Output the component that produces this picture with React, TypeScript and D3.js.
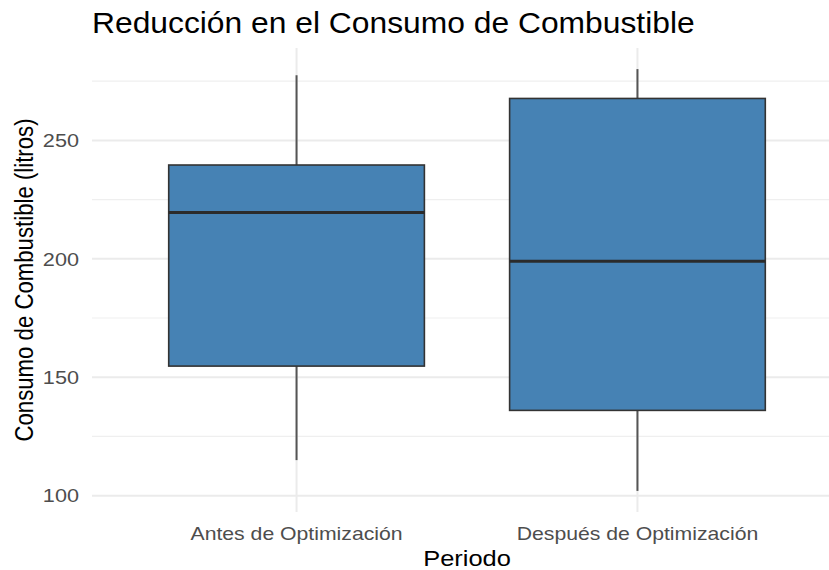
import React from "react";
import * as d3 from "d3";

const categories = ["Antes de Optimización", "Después de Optimización"];
const lowerWhisker = [115, 102];
const q1 = [154.7, 136];
const median = [219.5, 199];
const q3 = [239.6, 267.7];
const upperWhisker = [277.5, 280.1];
const yTicks = [100, 150, 200, 250];
const yMinor = [125, 175, 225, 275];

const W = 829;
const H = 570;
const panel = { left: 92, right: 842, top: 48, bottom: 512 };
const FONT = "'Liberation Sans', Arial, sans-serif";

export default function App() {
  const lo = d3.min(lowerWhisker) as number;
  const hi = d3.max(upperWhisker) as number;
  const pad = (hi - lo) * 0.05;
  const y = d3.scaleLinear().domain([lo - pad, hi + pad]).range([panel.bottom, panel.top]);
  const x = d3.scalePoint<string>().domain(categories).range([panel.left, panel.right]).padding(0.6);
  const half = x.step() * 0.375;
  const sx = 1.14;

  return (
    <svg width={W} height={H} style={{ position: "absolute", left: 0, top: 0, background: "#fff" }} fontFamily={FONT}>
      {/* minor grid */}
      {yMinor.map((t) => (
        <line key={"mi" + t} x1={panel.left} x2={panel.right} y1={y(t)} y2={y(t)} stroke="#efefef" strokeWidth={1.2} />
      ))}
      {/* major grid */}
      {yTicks.map((t) => (
        <line key={"ma" + t} x1={panel.left} x2={panel.right} y1={y(t)} y2={y(t)} stroke="#ebebeb" strokeWidth={2} />
      ))}
      {categories.map((c) => (
        <line key={"v" + c} x1={x(c)} x2={x(c)} y1={panel.top} y2={panel.bottom} stroke="#ebebeb" strokeWidth={2} />
      ))}
      {/* boxes */}
      {categories.map((c, i) => {
        const cx = x(c) as number;
        return (
          <g key={"b" + c}>
            <line x1={cx} x2={cx} y1={y(upperWhisker[i])} y2={y(q3[i])} stroke="#555" strokeWidth={2} />
            <line x1={cx} x2={cx} y1={y(q1[i])} y2={y(lowerWhisker[i])} stroke="#555" strokeWidth={2} />
            <rect x={cx - half} y={y(q3[i])} width={half * 2} height={y(q1[i]) - y(q3[i])} fill="#4682b4" stroke="#333" strokeWidth={1.6} />
            <line x1={cx - half} x2={cx + half} y1={y(median[i])} y2={y(median[i])} stroke="#2b2b2b" strokeWidth={3} />
          </g>
        );
      })}
      {/* y tick labels */}
      {yTicks.map((t) => (
        <text key={"yt" + t} transform={`translate(79,${y(t) + 6.8}) scale(${sx},1)`} textAnchor="end" fontSize={19} fill="#4d4d4d">
          {t}
        </text>
      ))}
      {/* x tick labels */}
      {categories.map((c) => (
        <text key={"xt" + c} transform={`translate(${x(c)},540) scale(${sx},1)`} textAnchor="middle" fontSize={18.6} fill="#4d4d4d">
          {c}
        </text>
      ))}
      {/* axis titles */}
      <text transform={`translate(${(panel.left + panel.right) / 2},566) scale(${sx},1)`} textAnchor="middle" fontSize={22.3} fill="#000">
        Periodo
      </text>
      <text transform={`translate(33,${(panel.top + panel.bottom) / 2}) scale(${sx},1) rotate(-90)`} textAnchor="middle" fontSize={22.2} fill="#000">
        Consumo de Combustible (litros)
      </text>
      {/* title */}
      <text transform={`translate(92,33) scale(1.06,1)`} fontSize={30} fill="#000">
        Reducción en el Consumo de Combustible
      </text>
    </svg>
  );
}
